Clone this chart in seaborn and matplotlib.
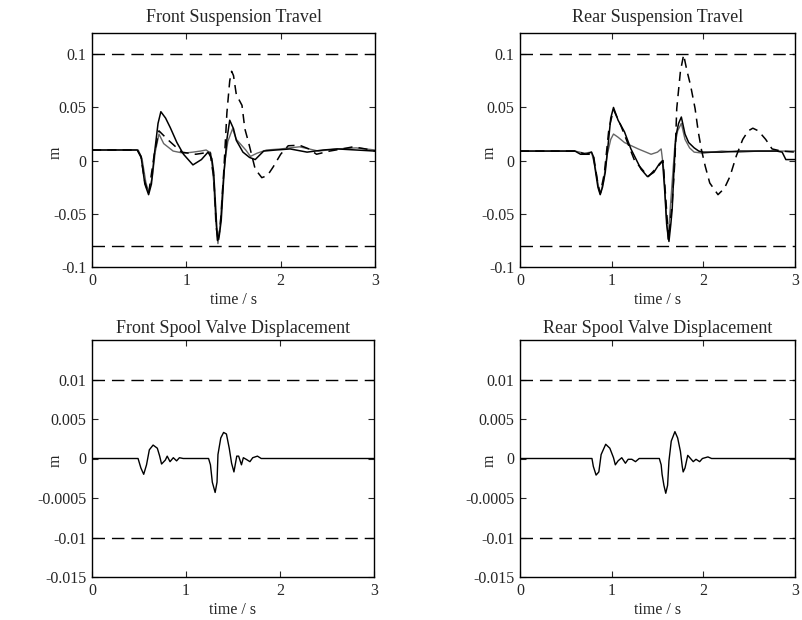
import matplotlib
matplotlib.use("Agg")
import matplotlib.pyplot as plt
import seaborn as sns
import pandas as pd

# ---------------- data ----------------
time_ticks = [0, 1, 2, 3]
travel_ticks = [0.1, 0.05, 0, -0.05, -0.1]
travel_ticklabels = ["0.1", "0.05", "0", "-0.05", "-0.1"]
spool_ticks = [0.01, 0.005, 0, -0.005, -0.01, -0.015]
spool_ticklabels = ["0.01", "0.005", "0", "-0.0005", "-0.01", "-0.015"]
travel_limits = [0.1, -0.08]
spool_limits = [0.01, -0.01]

titles = ["Front Suspension Travel", "Rear Suspension Travel",
          "Front Spool Valve Displacement", "Rear Spool Valve Displacement"]

# Front suspension travel
front_a_t = [0, 0.48, 0.52, 0.56, 0.60, 0.63, 0.66, 0.70, 0.73, 0.78, 0.83, 0.90, 0.97, 1.07, 1.16, 1.23, 1.27,
             1.29, 1.31, 1.33, 1.35, 1.37, 1.40, 1.43, 1.46, 1.50, 1.53, 1.60, 1.67, 1.73, 1.82, 1.95, 2.1, 2.28,
             2.45, 2.6, 2.8, 3.0]
front_a_y = [0.01, 0.01, 0.004, -0.022, -0.032, -0.022, 0.005, 0.035, 0.046, 0.040, 0.031, 0.017, 0.006, -0.004,
             0.001, 0.008, 0.002, -0.011, -0.043, -0.075, -0.07, -0.056, -0.011, 0.02, 0.038, 0.03, 0.019, 0.008,
             0.003, 0.001, 0.009, 0.01, 0.011, 0.008, 0.01, 0.011, 0.01, 0.009]

front_b_t = [0, 0.49, 0.53, 0.57, 0.60, 0.64, 0.67, 0.71, 0.76, 0.86, 0.97, 1.07, 1.15, 1.21, 1.26, 1.29, 1.31,
             1.335, 1.36, 1.38, 1.41, 1.44, 1.49, 1.53, 1.58, 1.63, 1.68, 1.75, 1.85, 2.0, 2.2, 2.4, 2.6, 2.8, 3.0]
front_b_y = [0.01, 0.01, 0.002, -0.02, -0.03, -0.015, 0.008, 0.025, 0.016, 0.009, 0.007, 0.008, 0.009, 0.01,
             0.007, -0.02, -0.055, -0.078, -0.06, -0.03, 0.0, 0.018, 0.03, 0.02, 0.015, 0.01, 0.004, 0.007, 0.01,
             0.011, 0.013, 0.009, 0.011, 0.012, 0.01]

front_c_t = [0, 0.48, 0.52, 0.56, 0.60, 0.66, 0.71, 0.80, 0.95, 1.10, 1.25, 1.29, 1.32, 1.34, 1.37, 1.40, 1.43,
             1.46, 1.48, 1.50, 1.53, 1.59, 1.62, 1.66, 1.73, 1.80, 1.86, 1.92, 2.0, 2.08, 2.2, 2.3, 2.38, 2.52,
             2.65, 2.77, 2.9, 3.0]
front_c_y = [0.01, 0.01, 0.003, -0.02, -0.031, 0.006, 0.028, 0.02, 0.008, 0.006, 0.008, -0.015, -0.065, -0.076,
             -0.05, -0.005, 0.045, 0.075, 0.084, 0.08, 0.062, 0.052, 0.03, 0.017, -0.008, -0.016, -0.014, -0.006,
             0.006, 0.014, 0.0145, 0.011, 0.006, 0.009, 0.011, 0.013, 0.011, 0.009]

# Rear suspension travel
rear_a_t = [0, 0.6, 0.66, 0.72, 0.78, 0.80, 0.82, 0.85, 0.875, 0.90, 0.93, 0.96, 0.99, 1.02, 1.07, 1.14, 1.21,
            1.32, 1.39, 1.46, 1.52, 1.555, 1.58, 1.60, 1.625, 1.645, 1.66, 1.68, 1.70, 1.73, 1.76, 1.80, 1.84,
            1.90, 1.95, 2.0, 2.2, 2.4, 2.6, 2.8, 2.86, 2.9, 3.0]
rear_a_y = [0.009, 0.009, 0.006, 0.006, 0.008, 0.004, -0.008, -0.025, -0.032, -0.025, -0.011, 0.014, 0.04,
            0.050, 0.038, 0.027, 0.011, -0.008, -0.015, -0.011, -0.003, 0.0, -0.03, -0.06, -0.076, -0.06, -0.046,
            -0.008, 0.023, 0.035, 0.041, 0.025, 0.017, 0.012, 0.009, 0.008, 0.008, 0.009, 0.009, 0.009, 0.008,
            0.001, 0.001]

rear_b_t = [0, 0.6, 0.7, 0.78, 0.82, 0.86, 0.88, 0.91, 0.95, 0.99, 1.02, 1.07, 1.14, 1.29, 1.43, 1.5, 1.54,
            1.57, 1.595, 1.615, 1.635, 1.66, 1.69, 1.72, 1.76, 1.80, 1.85, 1.9, 2.0, 2.2, 2.4, 2.6, 2.8, 3.0]
rear_b_y = [0.009, 0.009, 0.007, 0.008, -0.006, -0.026, -0.03, -0.02, 0.005, 0.02, 0.025, 0.022, 0.017, 0.011,
            0.006, 0.008, 0.011, -0.01, -0.05, -0.074, -0.05, -0.02, 0.015, 0.028, 0.035, 0.02, 0.012, 0.008,
            0.007, 0.009, 0.008, 0.009, 0.009, 0.009]

rear_c_t = [0, 0.6, 0.72, 0.80, 0.85, 0.875, 0.92, 0.97, 1.02, 1.10, 1.25, 1.40, 1.52, 1.56, 1.59, 1.62, 1.66,
            1.69, 1.71, 1.75, 1.785, 1.82, 1.86, 1.91, 1.945, 1.98, 2.02, 2.07, 2.16, 2.23, 2.29, 2.36, 2.43,
            2.49, 2.54, 2.6, 2.68, 2.75, 2.85, 3.0]
rear_c_y = [0.009, 0.009, 0.006, 0.006, -0.022, -0.031, -0.012, 0.03, 0.048, 0.033, 0.0, -0.015, -0.004, 0.0,
            -0.035, -0.074, -0.04, 0.0, 0.049, 0.084, 0.0995, 0.085, 0.071, 0.049, 0.027, 0.01, -0.005, -0.021,
            -0.032, -0.026, -0.015, 0.0045, 0.02, 0.028, 0.0305, 0.028, 0.02, 0.011, 0.009, 0.008]

# Spool valve displacement
front_spool_t = [0, 0.49, 0.52, 0.55, 0.58, 0.61, 0.65, 0.695, 0.72, 0.74, 0.78, 0.80, 0.83, 0.865, 0.90, 0.93,
                 0.97, 1.24, 1.26, 1.28, 1.31, 1.33, 1.34, 1.37, 1.40, 1.43, 1.46, 1.485, 1.51, 1.54, 1.56, 1.59,
                 1.61, 1.64, 1.68, 1.71, 1.76, 1.80, 3.0]
front_spool_y = [0, 0, -0.0012, -0.002, -0.0008, 0.0011, 0.0017, 0.0013, 0.0003, -0.0007, -0.0002, 0.0003,
                 -0.0004, 0.0001, -0.0003, 0.0001, 0, 0, -0.0008, -0.003, -0.0043, -0.003, 0.0005, 0.0026, 0.0033,
                 0.0031, 0.0013, -0.0006, -0.0017, 0.0003, 0.0003, -0.0008, 0.0001, -0.0001, -0.0004, 0.0001,
                 0.0003, 0, 0]

rear_spool_t = [0, 0.785, 0.80, 0.83, 0.86, 0.885, 0.935, 0.98, 1.02, 1.04, 1.07, 1.11, 1.15, 1.18, 1.22, 1.26,
                1.30, 1.52, 1.54, 1.55, 1.57, 1.59, 1.61, 1.625, 1.65, 1.69, 1.72, 1.75, 1.77, 1.78, 1.80, 1.83,
                1.86, 1.89, 1.92, 1.96, 1.99, 2.05, 2.09, 3.0]
rear_spool_y = [0, 0, -0.001, -0.0021, -0.0017, 0.0005, 0.0018, 0.0013, 0.0001, -0.0008, -0.0003, 0.0001,
                -0.0006, -0.0001, -0.0001, -0.0004, 0, 0, -0.0008, -0.002, -0.0034, -0.0044, -0.0034, -0.0003,
                0.0022, 0.0034, 0.0026, 0.0009, -0.001, -0.0017, -0.0012, 0.0004, 0.0, -0.0004, -0.0001, -0.0004,
                0.0, 0.0002, 0.0, 0]

# ---------------- style ----------------
sns.set_style("ticks")
plt.rcParams["font.family"] = ["Liberation Serif", "DejaVu Serif"]
plt.rcParams["axes.linewidth"] = 1.0
plt.rcParams["xtick.direction"] = "in"
plt.rcParams["ytick.direction"] = "in"

fig = plt.figure(figsize=(8.02, 6.2), dpi=100)
W, H = 802, 620


def add_ax(left, top, right, bottom):
    return fig.add_axes([left / W, 1 - bottom / H, (right - left) / W, (bottom - top) / H])


ax_tl = add_ax(92, 33, 375, 267)
ax_tr = add_ax(520, 33, 795, 267)
ax_bl = add_ax(92, 340, 374, 577)
ax_br = add_ax(520, 340, 795, 577)

BLACK = "black"
GRAY = "#666666"


def line(ax, t, y, **kw):
    df = pd.DataFrame({"t": t, "y": y})
    sns.lineplot(data=df, x="t", y="y", ax=ax, sort=False, estimator=None, **kw)


# Suspension travel panels
for ax, (at, ay, bt, by, ct, cy) in [
    (ax_tl, (front_a_t, front_a_y, front_b_t, front_b_y, front_c_t, front_c_y)),
    (ax_tr, (rear_a_t, rear_a_y, rear_b_t, rear_b_y, rear_c_t, rear_c_y)),
]:
    for lim in travel_limits:
        ax.axhline(lim, color=BLACK, lw=1.0, dashes=(9, 5))
    line(ax, bt, by, color=GRAY, linewidth=1.0)
    line(ax, at, ay, color=BLACK, linewidth=1.1)
    line(ax, ct, cy, color=BLACK, linewidth=1.1, dashes=(6, 4))
    ax.set_ylim(-0.1, 0.12)
    ax.set_yticks(travel_ticks)
    ax.set_yticklabels(travel_ticklabels)

# Spool valve panels
for ax, (t, y) in [(ax_bl, (front_spool_t, front_spool_y)), (ax_br, (rear_spool_t, rear_spool_y))]:
    for lim in spool_limits:
        ax.axhline(lim, color=BLACK, lw=1.0, dashes=(9, 5))
    line(ax, t, y, color=BLACK, linewidth=1.0)
    ax.set_ylim(-0.015, 0.015)
    ax.set_yticks(spool_ticks)
    ax.set_yticklabels(spool_ticklabels)

for i, ax in enumerate([ax_tl, ax_tr, ax_bl, ax_br]):
    ax.set_xlim(0, 3)
    ax.set_xticks(time_ticks)
    ax.set_xticklabels([str(v) for v in time_ticks])
    ax.tick_params(axis="both", which="both", direction="in", top=True, right=True,
                   length=4, width=0.8, labelsize=11.5, pad=4)
    ax.set_xlabel("time / s", fontsize=11.5)
    ax.set_ylabel("m", fontsize=11.5)
    top_row = i < 2
    ax.set_title(titles[i], fontsize=13, pad=8 if top_row else 5)
    left_col = i % 2 == 0
    ax.yaxis.set_label_coords(-0.099 if left_col else -0.082, 0.49)
    ax.xaxis.set_label_coords(0.5, -0.105)
    for sp in ax.spines.values():
        sp.set_visible(True)
        sp.set_color(BLACK)

fig.savefig("out.png", dpi=100, facecolor="white")
